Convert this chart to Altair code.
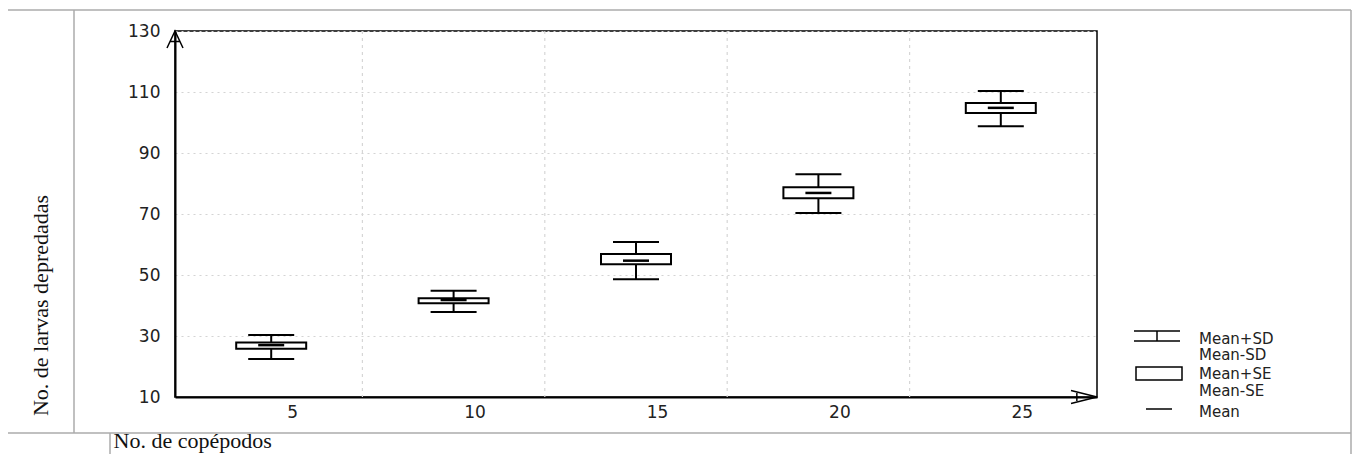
import altair as alt
import pandas as pd

# ---- data ----
copepods = [5, 10, 15, 20, 25]
mean = [27.0, 41.8, 54.7, 76.9, 104.8]
se_low = [25.8, 40.7, 53.5, 75.2, 103.1]
se_high = [27.9, 42.4, 56.9, 78.8, 106.4]
sd_low = [22.5, 37.9, 48.6, 70.3, 98.8]
sd_high = [30.3, 44.8, 60.8, 83.0, 110.3]
y_ticks = [10, 30, 50, 70, 90, 110, 130]
legend_labels = ["Mean+SD", "Mean-SD", "Mean+SE", "Mean-SE", "Mean"]
x_title = "No. de copépodos"
y_title = "No. de larvas depredadas"

df = pd.DataFrame(dict(n=copepods, mean=mean, se_lo=se_low, se_hi=se_high,
                       sd_lo=sd_low, sd_hi=sd_high))
bounds = pd.DataFrame({"b": [(a + b) / 2 for a, b in zip(copepods[:-1], copepods[1:])]})
one = pd.DataFrame({"k": [0]})

W, H = 922, 366
xscale = alt.Scale(domain=[2.5, 27.5], nice=False, zero=False)
yscale = alt.Scale(domain=[10, 130], nice=False, zero=False)

x_axis = alt.Axis(values=copepods, grid=False, ticks=False, domainColor="black",
                  domainWidth=2, labelOffset=21, labelPadding=7,
                  labelFont="DejaVu Sans", labelFontSize=17, labelColor="#222",
                  title=x_title, titleX=-62, titleY=50, titleAlign="left",
                  titleBaseline="alphabetic", titleFont="Liberation Serif",
                  titleFontSize=22, titleFontWeight="normal", titleColor="#111")
y_axis = alt.Axis(values=y_ticks, grid=True, gridColor="#d4d4d4", gridDash=[2, 4],
                  gridWidth=1.2, ticks=False, domainColor="black", domainWidth=2,
                  labelPadding=15, labelFont="DejaVu Sans", labelFontSize=17,
                  labelColor="#222", title=y_title, titleX=-135, titleY=274,
                  titleAngle=270, titleAlign="center", titleBaseline="middle",
                  titleFont="Liberation Serif", titleFontSize=22,
                  titleFontWeight="normal", titleColor="#111")

X = lambda f: alt.X(f, type="quantitative", scale=xscale, axis=x_axis)
Y = lambda f: alt.Y(f, type="quantitative", scale=yscale, axis=y_axis)

vgrid = alt.Chart(bounds).mark_rule(color="#d6d6d6", strokeDash=[3, 4], strokeWidth=1.2).encode(
    x=X("b"))

stems = alt.Chart(df).mark_rule(color="black", strokeWidth=2).encode(
    x=X("n"), y=Y("sd_lo"), y2="sd_hi")
cap_hi = alt.Chart(df).mark_tick(orient="horizontal", size=46, thickness=2, color="black", opacity=1).encode(
    x=X("n"), y=Y("sd_hi"))
cap_lo = alt.Chart(df).mark_tick(orient="horizontal", size=46, thickness=2, color="black", opacity=1).encode(
    x=X("n"), y=Y("sd_lo"))
box = alt.Chart(df).mark_bar(size=70, fill="white", stroke="black", strokeWidth=2).encode(
    x=X("n"), y=Y("se_lo"), y2="se_hi")
mean_t = alt.Chart(df).mark_tick(orient="horizontal", size=26, thickness=2.5, color="black", opacity=1).encode(
    x=X("n"), y=Y("mean"))

# ---- decorations (frame, arrows, legend) ----
frame_col = "#ababab"


def hline(x1, x2, y, color=frame_col, w=1.5):
    return alt.Chart(one).mark_rule(color=color, strokeWidth=w).encode(
        x=alt.value(x1), x2=alt.value(x2), y=alt.value(y), y2=alt.value(y))


def vline(x, y1, y2, color=frame_col, w=1.5):
    return alt.Chart(one).mark_rule(color=color, strokeWidth=w).encode(
        x=alt.value(x), x2=alt.value(x), y=alt.value(y1), y2=alt.value(y2))


frame = [
    hline(-170, 1176, -21),
    vline(-170, -21, 402),
    vline(-101, -21, 402),
    hline(-175, 1176, 402),
    vline(-65, 402, 424),
    vline(1176, -21, 424),
]

up_arrow = alt.Chart(one).mark_point(
    shape="M-0.8,1L0,-0.7L0.8,1M-0.45,0.35L0.45,0.35", size=400, filled=False,
    stroke="black", strokeWidth=1.5, opacity=1).encode(x=alt.value(0), y=alt.value(7))
right_arrow = alt.Chart(one).mark_point(
    shape="M-1,-0.5L1,0L-1,0.5M-0.55,-0.3L-0.55,0.3", size=676, filled=False,
    stroke="black", strokeWidth=1.5, opacity=1).encode(x=alt.value(W - 13), y=alt.value(H))

leg = [
    hline(959, 1005, 300, "black", 1.5),
    hline(959, 1005, 310, "black", 1.5),
    vline(982, 300, 310, "black", 1.5),
    alt.Chart(one).mark_rect(fill="white", stroke="black", strokeWidth=1.5).encode(
        x=alt.value(961), x2=alt.value(1007), y=alt.value(336), y2=alt.value(349)),
    hline(971, 997, 378, "black", 1.5),
]
leg_y = [308, 324, 343, 360, 381]
for lab, yy in zip(legend_labels, leg_y):
    leg.append(alt.Chart(one).mark_text(align="left", baseline="middle", font="DejaVu Sans",
                                        fontSize=15, color="#222").encode(
        x=alt.value(1024), y=alt.value(yy), text=alt.value(lab)))

chart = alt.layer(vgrid, stems, box, cap_hi, cap_lo, mean_t, up_arrow, right_arrow,
                  *frame, *leg).properties(
    width=W, height=H,
    autosize=alt.AutoSizeParams(type="none"),
    padding={"left": 167, "top": 23, "right": 255, "bottom": 57},
    background="white",
).configure_view(stroke="black", strokeWidth=1.5)

chart.save("out.html", embed_options={"renderer": "svg", "actions": False})
